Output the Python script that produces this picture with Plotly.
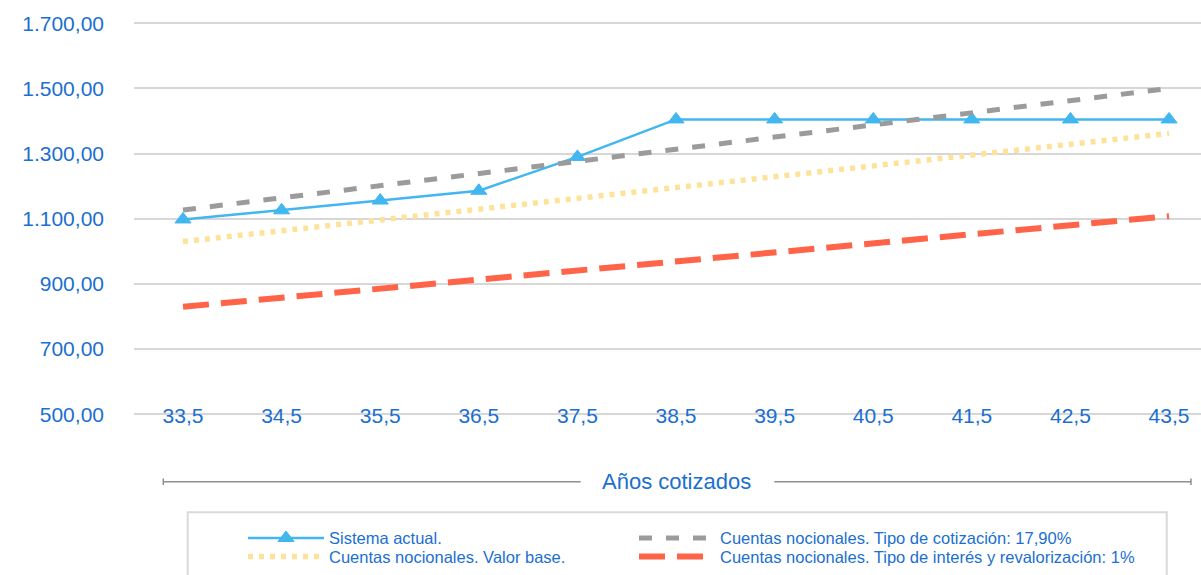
import plotly.graph_objects as go

anos = [33.5, 34.5, 35.5, 36.5, 37.5, 38.5, 39.5, 40.5, 41.5, 42.5, 43.5]
sistema_actual = [1098, 1126, 1156, 1186, 1290, 1405, 1405, 1405, 1405, 1405, 1405]
valor_base = [1030, 1063, 1096, 1130, 1163, 1196, 1229, 1262, 1296, 1329, 1362]
tipo_cotizacion = [1127, 1164, 1201, 1239, 1276, 1313, 1351, 1388, 1425, 1463, 1500]
tipo_interes = [830, 858, 886, 913, 941, 969, 997, 1024, 1052, 1080, 1108]
y_ticks = [500, 700, 900, 1100, 1300, 1500, 1700]

TXT = "#1b6fd0"
FONT = "Liberation Sans, Arial, sans-serif"

fig = go.Figure()
fig.add_trace(go.Scatter(x=anos, y=sistema_actual, name="Sistema actual.", mode="lines+markers",
                         line=dict(color="#41b6ef", width=2.5),
                         marker=dict(symbol="triangle-up", size=14, color="#41b6ef",
                                     line=dict(color="#41b6ef", width=1)),
                         legend="legend"))
fig.add_trace(go.Scatter(x=anos, y=valor_base, name="Cuentas nocionales. Valor base.",
                         mode="lines", line=dict(color="#fde39a", width=5.5, dash="5px,6px"),
                         legend="legend2"))
fig.add_trace(go.Scatter(x=anos, y=tipo_cotizacion, name="Cuentas nocionales. Tipo de cotización: 17,90%",
                         mode="lines", line=dict(color="#9b9b9c", width=5, dash="13px,14px"),
                         legend="legend3"))
fig.add_trace(go.Scatter(x=anos, y=tipo_interes, name="Cuentas nocionales. Tipo de interés y revalorización: 1%",
                         mode="lines", line=dict(color="#ff6449", width=6, dash="26px,12px"),
                         legend="legend4"))

L, R, T, B = 134, 0, 20, 157
W, H = 1201, 575
pw, ph = W - L - R, H - T - B

def px_x(p):
    return (p - L) / pw

def px_y(p):
    return (H - B - p) / ph

leg_common = dict(orientation="h", xanchor="left", yanchor="middle",
                  font=dict(family=FONT, size=16.5, color=TXT),
                  bgcolor="rgba(0,0,0,0)", borderwidth=0, itemwidth=76)

col1, col2 = 243, 634
row1, row2 = 538.3, 556.7

fig.update_layout(
    width=W, height=H,
    margin=dict(l=L, r=R, t=T, b=B, pad=0),
    paper_bgcolor="white", plot_bgcolor="white",
    separators=",.",
    font=dict(family=FONT, color=TXT),
    xaxis=dict(range=[33.003, 43.824], tickvals=anos, tickformat=".1f",
               showgrid=False, zeroline=False, showline=False, ticks="",
               tickfont=dict(size=21, color=TXT), ticklabelstandoff=-17),
    yaxis=dict(range=[488.6, 1710.1], tickvals=y_ticks, tickformat=",.2f",
               showgrid=True, gridcolor="#d7d7d7", gridwidth=1.5,
               zeroline=False, showline=False, ticks="",
               tickfont=dict(size=21, color=TXT), ticklabelstandoff=29),
    legend=dict(x=px_x(col1), y=px_y(row1), **leg_common),
    legend2=dict(x=px_x(col1), y=px_y(row2), **leg_common),
    legend3=dict(x=px_x(col2), y=px_y(row1), **leg_common),
    legend4=dict(x=px_x(col2), y=px_y(row2), **leg_common),
    showlegend=True,
)

# axis title with decorative rule
fig.add_annotation(text="Años cotizados", x=px_x(676.5), y=px_y(481.7), xref="paper", yref="paper",
                   showarrow=False, font=dict(family=FONT, size=22, color=TXT),
                   xanchor="center", yanchor="middle")
rule = dict(type="line", xref="paper", yref="paper", line=dict(color="#8f8f8f", width=1.5))
fig.add_shape(x0=px_x(163.3), x1=px_x(580.7), y0=px_y(481.7), y1=px_y(481.7), **rule)
fig.add_shape(x0=px_x(774.3), x1=px_x(1191), y0=px_y(481.7), y1=px_y(481.7), **rule)
fig.add_shape(x0=px_x(163.3), x1=px_x(163.3), y0=px_y(478.5), y1=px_y(485), **rule)
fig.add_shape(x0=px_x(1191), x1=px_x(1191), y0=px_y(478.5), y1=px_y(485), **rule)
# legend frame
fig.add_shape(type="rect", xref="paper", yref="paper", x0=px_x(187.7), x1=px_x(1166.7),
              y0=px_y(512.3), y1=px_y(590), line=dict(color="#d9d9d9", width=2), layer="below")

fig.write_html("out.html")
